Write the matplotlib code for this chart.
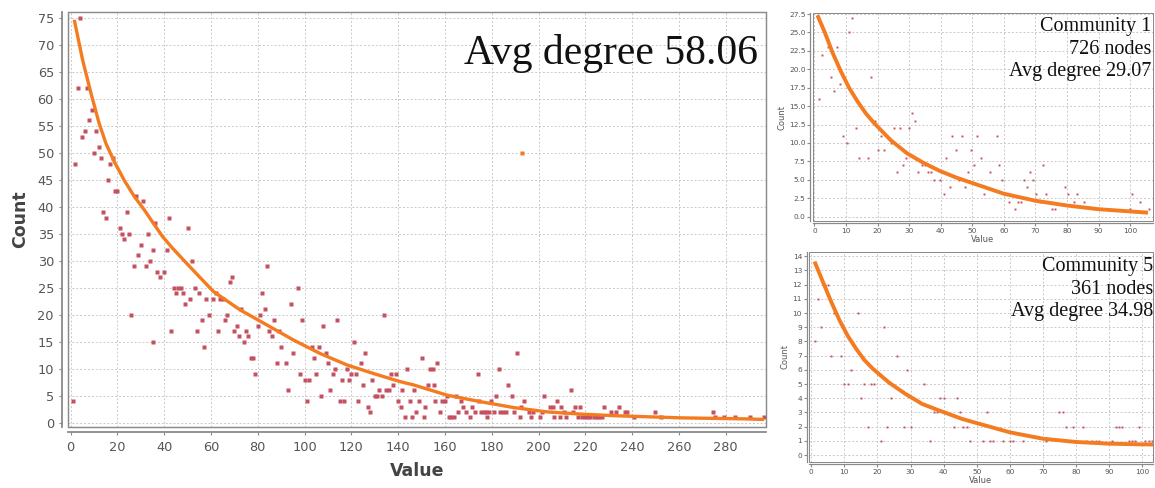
import matplotlib
matplotlib.use('Agg')
import matplotlib.pyplot as plt
from matplotlib.patches import Rectangle

# ---------------- data ----------------
main_x = [1, 2, 3, 4, 5, 6, 7, 8, 9, 10, 11, 12, 13, 14, 15, 16, 17, 18, 19, 20,
          21, 22, 23, 24, 25, 26, 27, 28, 29, 30, 31, 32, 33, 34, 35, 35, 36, 37, 38, 40,
          41, 42, 43, 44, 45, 46, 47, 48, 49, 50, 51, 52, 53, 54, 55, 56, 57, 58, 59, 61,
          62, 63, 64, 65, 66, 67, 68, 69, 70, 71, 72, 73, 74, 75, 76, 77, 78, 79, 80, 81,
          82, 83, 84, 85, 86, 87, 88, 89, 90, 92, 93, 94, 95, 97, 98, 99, 100, 101, 102, 103,
          104, 105, 106, 107, 108, 109, 110, 111, 112, 113, 114, 115, 116, 117, 118, 119, 120, 121, 122, 123,
          124, 125, 126, 127, 128, 129, 130, 131, 132, 133, 134, 135, 136, 137, 138, 139,
          140, 141, 141.6, 142.8, 143.8, 145, 146, 146.6, 147.8, 149, 150, 151, 151.6, 152.7, 153.7, 154.9,
          155.2, 155.6, 156.6, 157.7, 158.9, 159.9, 160.7, 161.6, 162.7, 163.7, 164.6, 165.6, 166.7, 167.9,
          168.9, 170.6, 171.7, 173, 174, 174.6, 175.6, 176.7, 177.7, 178, 178.9, 179.8, 180.9, 182, 183,
          183.7, 184.8, 186, 186.8, 188.7, 189.7, 190.8, 192, 192.6, 193.7, 195.8, 196.8, 197.7, 200.8,
          201.5, 202.5, 204.7, 206.2, 206.5, 207.7, 209, 209.7, 210.8, 211.8, 213.8, 214.8, 215.5, 216.8,
          217.7, 218.7, 220, 221, 222.2, 223.6, 224.8, 226, 227, 228, 230.8, 233.3, 234.5, 236.9, 237.9,
          240.8, 249.8, 252.2, 274.7, 275.4, 279.3, 284, 290.4, 296.5]
main_y = [4, 48, 62, 75, 53, 54, 62, 56, 58, 50, 54, 51, 49, 39, 38, 45, 48, 49, 43, 43,
          36, 35, 34, 39, 35, 20, 29, 42, 31, 33, 41, 29, 35, 30, 32, 15, 37, 28, 27, 28,
          32, 38, 17, 25, 24, 25, 25, 24, 22, 36, 23, 30, 25, 17, 24, 19, 14, 23, 20, 23,
          24, 17, 23, 23, 19, 20, 26, 27, 17, 18, 16, 21, 15, 17, 16, 12, 12, 9, 18, 20,
          24, 21, 29, 17, 16, 19, 11, 17, 14, 11, 6, 22, 13, 25, 9, 19, 8, 4, 8, 14,
          12, 9, 14, 5, 18, 13, 11, 6, 9, 10, 19, 4, 8, 4, 10, 8, 9, 15, 9, 4,
          11, 7, 13, 3, 2, 8, 5, 5, 6, 5, 20, 6, 6, 9, 7, 9,
          4, 3, 6, 1, 10, 4, 1, 6, 2, 4, 12, 1, 3, 7, 10, 10,
          7, 4, 11, 2, 4, 4, 5, 1, 1, 1, 5, 2, 4, 3,
          2, 1, 3, 2, 9, 4, 2, 2, 2, 1, 2, 4, 2, 5, 10,
          2, 2, 2, 7, 5, 2, 13, 1, 3, 4, 2, 1, 2, 1,
          2, 5, 3, 3, 1, 4, 1, 3, 2, 1, 6, 2, 3, 1,
          3, 1, 1, 1, 1, 1, 1, 1, 1, 3, 2, 2, 3, 2, 2,
          1, 2, 1, 2, 1, 1, 1, 1, 1]
highlight_x = [193]
highlight_y = [50]

main_fit_x = [1.55, 5.1, 8.7, 12.2, 15.1, 18.7, 22.9, 27.2, 31.5, 35.4, 39.4, 43.6, 49.6, 61,
              72.4, 83.9, 95.3, 106.7, 118.1, 129.5, 140.9, 146.6, 160.9, 175.1, 189.4, 203.7,
              217.9, 232.2, 246.4, 260.7, 274.9, 289.2, 296.4]
main_fit_y = [74.6, 67.2, 61.0, 55.4, 51.7, 48.3, 44.9, 41.9, 39.4, 36.9, 34.4, 32.3, 29.5, 24.3,
              20.9, 18.1, 15.3, 12.8, 10.7, 9.1, 7.6, 7.0, 5.1, 3.9, 2.8, 2.0,
              1.6, 1.3, 1.1, 0.9, 0.8, 0.7, 0.6]

c1_x = [1.3, 2.3, 4.3, 5.1, 6.2, 7.2, 8.2, 9.2, 10.2, 11, 12, 13.1, 14.2, 17.1, 18, 19.1, 20.1,
        21.2, 22.1, 24.1, 25.1, 26.1, 27, 27.9, 29, 29.9, 31, 32, 32.8, 34, 34.9, 36, 36.9,
        37.9, 39.8, 40.9, 41.8, 42.8, 43.7, 44.7, 45.8, 46.7, 47.8, 48.7, 49.6, 50.6, 51.6,
        52.7, 53.6, 55.5, 57.7, 58.6, 59.4, 60.6, 61.5, 63.5, 64.4, 65.4, 66.3, 67.4, 68.4,
        69.3, 70.3, 71.3, 72.3, 73.3, 75.3, 76.2, 79.2, 80.3, 82.2, 83.2, 85.2, 100, 100.7,
        103, 106]
c1_y = [16, 22, 23, 19, 17, 23, 18, 11, 10, 25, 27, 12, 8, 8, 19, 13, 9,
        11, 9, 10, 12, 6, 12, 7, 8, 12, 14, 13, 6, 7, 7, 6, 6,
        5, 5, 3, 8, 4, 11, 9, 5, 11, 4, 6, 9, 7, 11,
        8, 3, 6, 11, 7, 5, 3, 2, 1, 2, 2, 5, 4, 6,
        5, 3, 2, 7, 3, 1, 1, 4, 3, 2, 3, 2, 1, 3,
        2, 1]
c1_fit_x = [1.2, 3.3, 5.8, 8.4, 11.1, 13.7, 16.3, 18.9, 24.1, 29.3, 34.5, 39.7, 44.9, 50.7,
            60, 70, 80, 90, 100, 105]
c1_fit_y = [27.1, 25.0, 22.2, 19.7, 17.4, 15.6, 14.0, 12.7, 10.4, 8.6, 7.3, 6.2, 5.3, 4.45,
            3.1, 2.15, 1.5, 1.0, 0.7, 0.55]

c5_x = [1, 2, 3, 4, 5, 6, 7, 9, 10, 11, 12, 14, 15, 16, 17, 18, 19, 21, 22, 23, 24, 26, 28,
        29, 30, 34, 36, 37, 38, 39, 40, 43, 44, 45, 46, 47, 48, 52, 53, 54, 55, 58, 60, 61,
        64, 71, 75, 76, 77, 79, 82, 83, 85, 86, 87, 91, 92, 93, 94, 96, 97, 98, 99, 101, 102,
        103]
c5_y = [8, 11, 9, 12, 12, 7, 10, 7, 5, 5, 6, 10, 4, 5, 2, 5, 5, 1, 9, 2, 4, 7, 2,
        6, 2, 5, 1, 3, 3, 4, 4, 2, 4, 3, 2, 2, 1, 1, 3, 1, 1, 1, 1, 1,
        1, 1, 3, 3, 2, 2, 2, 1, 1, 1, 1, 1, 2, 2, 2, 1, 1, 1, 2, 1, 1,
        1]
c5_fit_x = [1.2, 3.5, 6, 8.5, 11, 13.5, 16, 18.5, 23.5, 28.5, 33.5, 38.5, 45.5, 50, 60, 70,
            80, 90, 100, 103]
c5_fit_y = [13.5, 12.2, 10.8, 9.5, 8.4, 7.5, 6.7, 6.1, 5.1, 4.3, 3.6, 3.15, 2.55, 2.25, 1.6,
            1.15, 0.92, 0.8, 0.75, 0.74]

main_xticks = list(range(0, 281, 20))
main_yticks = list(range(0, 76, 5))
c1_xticks = list(range(0, 101, 10))
c1_yticks = [0.0, 2.5, 5.0, 7.5, 10.0, 12.5, 15.0, 17.5, 20.0, 22.5, 25.0, 27.5]
c5_xticks = list(range(0, 101, 10))
c5_yticks = list(range(0, 15))

main_text = "Avg degree 58.06"
c1_text = "Community 1\n726 nodes\nAvg degree 29.07"
c5_text = "Community 5\n361 nodes\nAvg degree 34.98"

# ---------------- drawing ----------------
W, H = 1155, 488
fig = plt.figure(figsize=(W / 100, H / 100), dpi=100)

PT_COL = '#c4515f'
FIT_COL = '#f47b20'
GRID_COL = '#c9c9c9'
AX_COL = '#8a8a8a'
TXT_COL = '#555555'


def px_axes(l, t, r, b):
    return fig.add_axes([l / W, 1 - b / H, (r - l) / W, (b - t) / H])


def style(ax, xlim, ylim, xticks, yticks, fs, offx, offy, lw, xpad, ypad, fmt=None):
    ax.set_xlim(*xlim)
    ax.set_ylim(*ylim)
    ax.set_xticks(xticks)
    ax.set_yticks(yticks)
    if fmt:
        ax.set_yticklabels([fmt % v for v in yticks])
    for s in ['top', 'right']:
        ax.spines[s].set_visible(False)
    ax.spines['left'].set_position(('outward', offy))
    ax.spines['bottom'].set_position(('outward', offx))
    for s in ['left', 'bottom']:
        ax.spines[s].set_color(AX_COL)
        ax.spines[s].set_linewidth(lw)
    ax.tick_params(axis='both', colors=AX_COL, labelcolor=TXT_COL, labelsize=fs,
                   length=2, width=0.8)
    ax.tick_params(axis='x', pad=xpad)
    ax.tick_params(axis='y', pad=ypad)
    ax.grid(True, color=GRID_COL, linestyle=(0, (2, 2)), linewidth=0.7)
    ax.set_axisbelow(True)
    ax.add_patch(Rectangle((0, 0), 1, 1, transform=ax.transAxes, fill=False,
                           edgecolor=AX_COL, linewidth=lw * 0.8, clip_on=False, zorder=5))


# Main chart
ax = px_axes(68.3, 12.3, 765.7, 426.7)
style(ax, (-1.0, 297.1), (-0.74, 76.0), main_xticks, main_yticks, 9.3,
      3.6, 4.3, 1.3, 4.8, 4.0)
ax.plot(main_x, main_y, 's', ms=2.7, color=PT_COL, mec='none', zorder=3)
ax.plot(highlight_x, highlight_y, 's', ms=2.7, color=FIT_COL, mec='none', zorder=3)
ax.plot(main_fit_x, main_fit_y, '-', color=FIT_COL, lw=2.4, zorder=4,
        solid_capstyle='butt', solid_joinstyle='round')
ax.set_xlabel('Value', fontsize=12.5, fontweight='bold', color='#444444', labelpad=6)
ax.set_ylabel('Count', fontsize=12.5, fontweight='bold', color='#444444', labelpad=6)
fig.text(758 / W, 1 - 64 / H, main_text, ha='right', va='baseline',
         family='Liberation Serif', fontsize=30, color='#111111')

# Community 1
ax1 = px_axes(812.5, 13.3, 1153, 221)
style(ax1, (-0.6, 107.2), (-0.6, 27.6), c1_xticks, c1_yticks, 5.3,
      1.5, 1.5, 0.9, 1.5, 1.5, fmt='%.1f')
ax1.plot(c1_x, c1_y, 's', ms=1.4, color=PT_COL, mec='none', zorder=3)
ax1.plot(c1_fit_x, c1_fit_y, '-', color=FIT_COL, lw=2.8, zorder=4,
         solid_joinstyle='round')
ax1.set_xlabel('Value', fontsize=6, color=TXT_COL, labelpad=1)
ax1.set_ylabel('Count', fontsize=6, color=TXT_COL, labelpad=2)
fig.text(1151 / W, 1 - 17 / H, c1_text, ha='right', va='top', ma='right',
         family='Liberation Serif', fontsize=14.5, color='#111111', linespacing=1.25)

# Community 5
ax5 = px_axes(809, 252, 1153, 461.7)
style(ax5, (-0.7, 103.3), (-0.47, 14.3), c5_xticks, c5_yticks, 5.3,
      1.5, 1.5, 0.9, 1.5, 1.5)
ax5.plot(c5_x, c5_y, 's', ms=1.4, color=PT_COL, mec='none', zorder=3)
ax5.plot(c5_fit_x, c5_fit_y, '-', color=FIT_COL, lw=2.8, zorder=4,
         solid_joinstyle='round')
ax5.set_xlabel('Value', fontsize=6, color=TXT_COL, labelpad=1)
ax5.set_ylabel('Count', fontsize=6, color=TXT_COL, labelpad=2)
fig.text(1153 / W, 1 - 257 / H, c5_text, ha='right', va='top', ma='right',
         family='Liberation Serif', fontsize=14.5, color='#111111', linespacing=1.25)

fig.savefig('out.png', dpi=100)
